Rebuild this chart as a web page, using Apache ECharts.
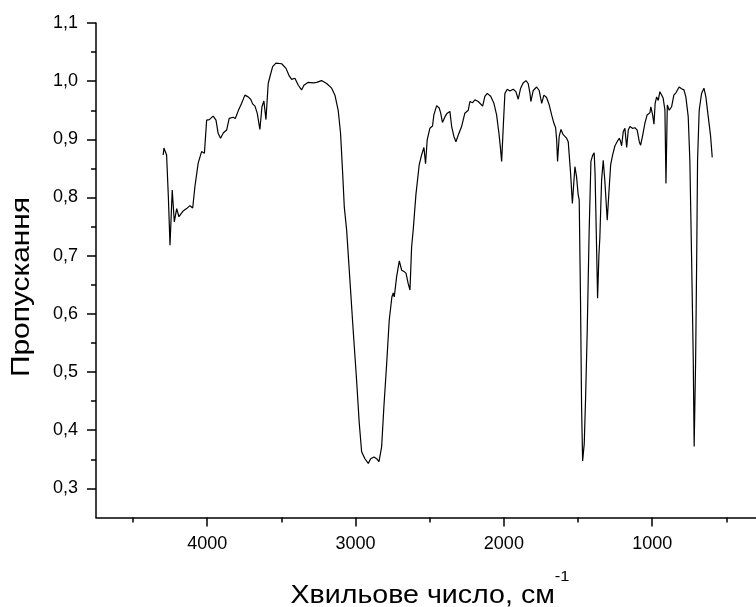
<!DOCTYPE html>
<html>
<head>
<meta charset="utf-8">
<script src="https://cdn.jsdelivr.net/npm/echarts@6/dist/echarts.min.js"></script>
<style>
html,body{margin:0;padding:0;background:#fff;}
#chart{width:756px;height:607px;}
</style>
</head>
<body>
<div id="chart"></div>
<script>
// Wavenumber (cm^-1)
const wavenumbers = [4297,4292,4274,4262,4251,4236,4222,4206,4191,4162,4139,4117,4098,4083,4061,4038,4027,4019,4004,3986,3960,3941,3926,3910,3892,3869,3852,3840,3825,3811,3791,3768,3746,3724,3707,3694,3678,3663,3645,3631,3618,3604,3589,3577,3559,3537,3498,3469,3447,3431,3409,3386,3364,3348,3319,3285,3262,3229,3195,3161,3139,3117,3101,3087,3076,3060,3038,3016,2993,2975,2959,2937,2914,2898,2876,2858,2842,2824,2809,2790,2773,2755,2746,2739,2723,2705,2689,2674,2660,2645,2633,2622,2611,2593,2571,2555,2539,2528,2517,2499,2481,2472,2453,2436,2426,2414,2397,2382,2364,2352,2337,2323,2308,2285,2274,2263,2251,2240,2229,2211,2195,2173,2161,2143,2128,2112,2089,2067,2049,2033,2023,2015,2004,1993,1977,1959,1937,1919,1903,1887,1870,1851,1836,1824,1818,1802,1779,1762,1745,1730,1712,1694,1678,1663,1651,1644,1638,1627,1615,1600,1577,1566,1551,1538,1521,1510,1499,1492,1483,1476,1469,1458,1449,1438,1425,1413,1402,1391,1385,1375,1368,1359,1353,1341,1330,1319,1303,1290,1280,1267,1251,1236,1222,1214,1206,1195,1184,1172,1161,1150,1133,1116,1101,1087,1078,1064,1049,1034,1015,1009,997,988,980,970,959,948,937,926,914,907,898,885,869,854,840,831,818,802,786,773,757,746,734,723,717,707,700,694,683,667,651,638,622,606,595];
// Transmittance values at those wavenumbers
const transmittance = [0.873,0.885,0.873,0.80,0.718,0.813,0.758,0.781,0.767,0.777,0.781,0.786,0.782,0.819,0.859,0.879,0.882,0.876,0.933,0.934,0.940,0.933,0.910,0.902,0.911,0.916,0.936,0.933,0.938,0.936,0.949,0.962,0.976,0.973,0.969,0.961,0.957,0.945,0.917,0.956,0.966,0.934,0.996,1.008,1.025,1.031,1.030,1.022,1.009,1.003,1.005,0.993,0.985,0.993,0.998,0.997,0.998,1.001,0.996,0.988,0.976,0.950,0.910,0.842,0.784,0.744,0.658,0.572,0.486,0.412,0.363,0.351,0.343,0.351,0.354,0.351,0.346,0.372,0.440,0.515,0.589,0.629,0.636,0.629,0.664,0.691,0.675,0.673,0.670,0.652,0.641,0.715,0.745,0.805,0.856,0.873,0.886,0.858,0.899,0.919,0.923,0.942,0.958,0.954,0.945,0.929,0.939,0.945,0.948,0.922,0.905,0.896,0.907,0.922,0.925,0.945,0.942,0.950,0.965,0.963,0.968,0.965,0.968,0.957,0.974,0.979,0.974,0.962,0.942,0.910,0.885,0.862,0.922,0.979,0.986,0.983,0.986,0.982,0.969,0.988,0.997,1.001,0.996,0.979,0.965,0.984,0.990,0.984,0.962,0.976,0.972,0.959,0.942,0.928,0.920,0.899,0.862,0.905,0.917,0.908,0.902,0.896,0.845,0.790,0.853,0.836,0.805,0.796,0.620,0.440,0.347,0.377,0.455,0.570,0.742,0.862,0.872,0.877,0.840,0.715,0.627,0.702,0.730,0.830,0.864,0.828,0.761,0.816,0.856,0.873,0.889,0.896,0.902,0.897,0.889,0.913,0.919,0.886,0.916,0.922,0.919,0.920,0.916,0.896,0.890,0.907,0.928,0.942,0.946,0.956,0.942,0.926,0.962,0.973,0.967,0.982,0.979,0.971,0.950,0.824,0.959,0.950,0.956,0.976,0.980,0.979,0.990,0.987,0.985,0.973,0.939,0.864,0.692,0.521,0.372,0.521,0.692,0.864,0.950,0.979,0.988,0.973,0.939,0.905,0.869];
// Tick values
const xMajorTicks = [1000, 2000, 3000, 4000];
const xMinorTicks = [500, 1500, 2500, 3500, 4500];
const yMajorTicks = [0.3, 0.4, 0.5, 0.6, 0.7, 0.8, 0.9, 1.0, 1.1];
const yMinorTicks = [0.35, 0.45, 0.55, 0.65, 0.75, 0.85, 0.95, 1.05];
const xTitle = 'Хвильове число, см';
const xTitleSup = '-1';
const yTitle = 'Пропускання';

const spectrum = wavenumbers.map((w, i) => [w, transmittance[i]]);

const FONT = 'Liberation Sans, Arial, sans-serif';
const chart = echarts.init(document.getElementById('chart'), null, {renderer: 'canvas'});
const xBase = {type: 'value', min: 300, max: 4750, inverse: true, position: 'bottom', splitLine: {show: false}};
const yBase = {type: 'value', min: 0.25, max: 1.1, position: 'left', splitLine: {show: false}};
chart.setOption({
  animation: false,
  backgroundColor: '#ffffff',
  grid: {left: 96, top: 23, right: 0, bottom: 89.5, containLabel: false},
  xAxis: [
    Object.assign({}, xBase, {
      axisLine: {show: true, onZero: false, lineStyle: {color: '#000', width: 1.5}},
      axisTick: {show: true, customValues: xMajorTicks, length: 9, lineStyle: {color: '#000', width: 1.5}},
      axisLabel: {show: true, customValues: xMajorTicks, margin: 18, color: '#000', fontSize: 18, fontFamily: FONT,
        formatter: v => String(v)}
    }),
    Object.assign({}, xBase, {
      axisLine: {show: false, onZero: false},
      axisTick: {show: true, customValues: xMinorTicks, length: 5, lineStyle: {color: '#000', width: 1.5}},
      axisLabel: {show: false}
    })
  ],
  yAxis: [
    Object.assign({}, yBase, {
      axisLine: {show: true, onZero: false, lineStyle: {color: '#000', width: 1.5}},
      axisTick: {show: true, customValues: yMajorTicks, length: 9, lineStyle: {color: '#000', width: 1.5}},
      axisLabel: {show: true, customValues: yMajorTicks, margin: 18, color: '#000', fontSize: 18, fontFamily: FONT,
        formatter: v => v.toFixed(1).replace('.', ',')}
    }),
    Object.assign({}, yBase, {
      axisLine: {show: false, onZero: false},
      axisTick: {show: true, customValues: yMinorTicks, length: 5, lineStyle: {color: '#000', width: 1.5}},
      axisLabel: {show: false}
    })
  ],
  graphic: [
    {type: 'text', x: 430, y: 589, scaleX: 1.1, style: {
      text: '{a|' + xTitle + '}{b|' + xTitleSup + '}', align: 'center', verticalAlign: 'middle',
      rich: {
        a: {fontSize: 26, fontFamily: FONT, fill: '#000', lineHeight: 40, verticalAlign: 'bottom'},
        b: {fontSize: 15, fontFamily: FONT, fill: '#000', lineHeight: 14, verticalAlign: 'top'}
      }
    }},
    {type: 'text', x: 22, y: 287, rotation: Math.PI / 2, scaleX: 1.15, style: {
      text: yTitle, align: 'center', verticalAlign: 'middle', fontSize: 26, fontFamily: FONT, fill: '#000'
    }}
  ],
  series: [{
    type: 'line', xAxisIndex: 0, yAxisIndex: 0, data: spectrum,
    showSymbol: false, symbol: 'none', smooth: false,
    lineStyle: {color: '#000', width: 1.2}, clip: true
  }]
});
</script>
</body>
</html>
